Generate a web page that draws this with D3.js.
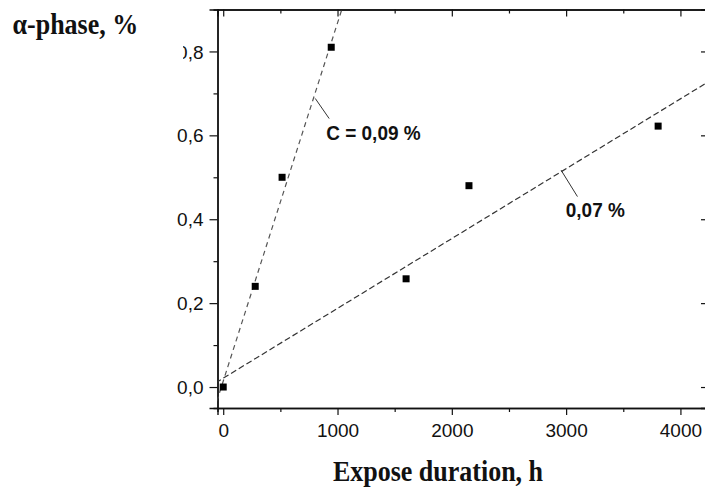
<!DOCTYPE html>
<html>
<head>
<meta charset="utf-8">
<script src="https://cdn.jsdelivr.net/npm/d3@7"></script>
<style>
  html, body { margin: 0; padding: 0; background: #fff; }
  svg { display: block; }
</style>
</head>
<body>
<svg id="chart" width="705" height="495"></svg>
<script>
// ---- data ----
const hours = [0, 280, 515, 945, 1600, 2150, 3805];
const alphaPhase = [0.0, 0.24, 0.50, 0.81, 0.258, 0.48, 0.622];
const fitLabels = ["C = 0,09 %", "0,07 %"];
const fitSlope = [0.000854, 0.0001665];
const fitIntercept = [0.014, 0.021];
const labelPos = [[901, 0.588], [2997, 0.406]];
const leaderFrom = [[805, 0.688], [2956, 0.517]];
const leaderTo = [[927, 0.640], [3099, 0.454]];
const xTicksMajor = [0, 1000, 2000, 3000, 4000];
const xTicksMinor = [500, 1500, 2500, 3500];
const yTicksMajor = [0.0, 0.2, 0.4, 0.6, 0.8];
const yTicksMinor = [0.1, 0.3, 0.5, 0.7];
const yTickLabels = ["0,0", "0,2", "0,4", "0,6", "0,8"];
const xTitle = "Expose duration, h";
const yTitle = "α-phase, %";

// ---- layout ----
const svg = d3.select("#chart");
const L = 217.5, R = 709, T = 9.5, B = 408;
const x = d3.scaleLinear().domain([-50, 4250]).range([L, R]);
const y = d3.scaleLinear().domain([-0.05, 0.9]).range([B, T]);

svg.append("defs").append("clipPath").attr("id", "plotclip")
  .append("rect").attr("x", L).attr("y", T).attr("width", R - L).attr("height", B - T);

const axisColor = "#111";
const tickFont = "'Liberation Sans', Arial, sans-serif";
const serif = "'Liberation Serif', 'Times New Roman', serif";

// bottom axis (ticks outward)
const gB = svg.append("g").attr("transform", `translate(0,${B})`);
gB.call(d3.axisBottom(x).tickValues(xTicksMajor).tickSize(7).tickPadding(9).tickFormat(d3.format("d")));
gB.append("g").call(d3.axisBottom(x).tickValues(xTicksMinor).tickSize(4).tickFormat(""));
// top axis (ticks pointing down, mirrored)
const gT = svg.append("g").attr("transform", `translate(0,${T})`);
gT.call(d3.axisBottom(x).tickValues(xTicksMajor).tickSize(7).tickFormat(""));
gT.append("g").call(d3.axisBottom(x).tickValues(xTicksMinor).tickSize(4).tickFormat(""));
// left axis (ticks outward)
const gL = svg.append("g").attr("transform", `translate(${L},0)`);
gL.call(d3.axisLeft(y).tickValues(yTicksMajor).tickSize(8).tickPadding(6)
  .tickFormat((d, i) => yTickLabels[i]));
gL.append("g").call(d3.axisLeft(y).tickValues(yTicksMinor).tickSize(4).tickFormat(""));
// right axis (ticks pointing left, mirrored)
const gR = svg.append("g").attr("transform", `translate(${R},0)`);
gR.call(d3.axisLeft(y).tickValues(yTicksMajor).tickSize(8).tickFormat(""));
gR.append("g").call(d3.axisLeft(y).tickValues(yTicksMinor).tickSize(4).tickFormat(""));

svg.selectAll(".domain").attr("stroke", axisColor).attr("stroke-width", 1.4);
svg.selectAll(".tick line").attr("stroke", axisColor).attr("stroke-width", 1.2);
svg.selectAll(".tick text").attr("font-family", tickFont).attr("font-size", 19).attr("fill", "#111");
gL.selectAll(".tick text").attr("dy", "0.35em");

// fitted dashed lines
const lineGen = d3.line().x(d => x(d[0])).y(d => y(d[1]));
const dashes = ["5,4", "6,3"];
const lineColors = ["#555", "#333"];
fitSlope.forEach((s, i) => {
  const xs = [-200, 4400];
  svg.append("path")
    .attr("clip-path", "url(#plotclip)")
    .attr("d", lineGen(xs.map(v => [v, fitIntercept[i] + s * v])))
    .attr("fill", "none")
    .attr("stroke", lineColors[i])
    .attr("stroke-width", 1.2)
    .attr("stroke-dasharray", dashes[i]);
});

// leader lines and labels
fitLabels.forEach((t, i) => {
  svg.append("line")
    .attr("x1", x(leaderFrom[i][0])).attr("y1", y(leaderFrom[i][1]))
    .attr("x2", x(leaderTo[i][0])).attr("y2", y(leaderTo[i][1]))
    .attr("stroke", "#333").attr("stroke-width", 1);
  svg.append("g")
    .attr("transform", `translate(${x(labelPos[i][0])},${y(labelPos[i][1])}) scale(1,1.08)`)
    .append("text")
    .attr("font-family", tickFont).attr("font-weight", "bold").attr("font-size", 19)
    .attr("fill", "#111")
    .text(t);
});

// data points
const sz = 7;
svg.append("g").selectAll("rect").data(hours.map((h, i) => [h, alphaPhase[i]]))
  .join("rect")
  .attr("x", d => x(d[0]) - sz / 2).attr("y", d => y(d[1]) - sz / 2)
  .attr("width", sz).attr("height", sz).attr("fill", "#000");

// crop mask over left part of the top tick label (as in reference image)
svg.append("rect").attr("x", 140).attr("y", 38).attr("width", 43).attr("height", 26).attr("fill", "#fff");

// titles
svg.append("g").attr("transform", "translate(12.5,34) scale(1,1.1)")
  .append("text")
  .attr("font-family", serif).attr("font-weight", "bold").attr("font-size", 26).attr("fill", "#111")
  .text(yTitle);
svg.append("g").attr("transform", "translate(438,481) scale(1,1.16)")
  .append("text").attr("text-anchor", "middle")
  .attr("font-family", serif).attr("font-weight", "bold").attr("font-size", 26).attr("fill", "#111")
  .text(xTitle);
</script>
</body>
</html>
